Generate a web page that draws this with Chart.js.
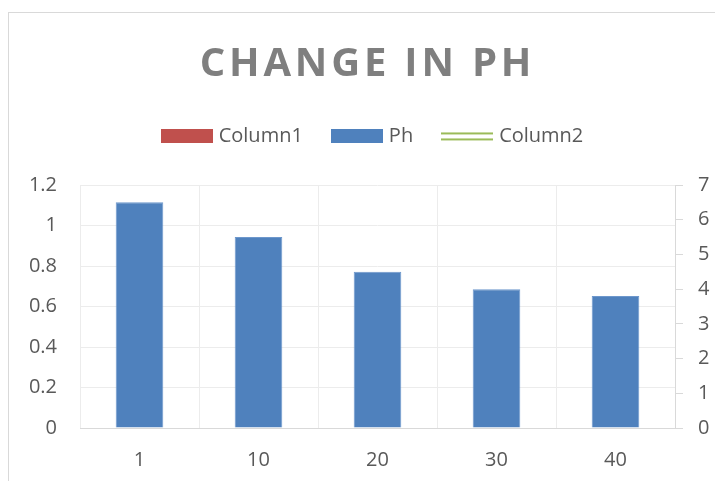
<!DOCTYPE html>
<html>
<head>
<meta charset="utf-8">
<title>Change in PH</title>
<script src="https://cdn.jsdelivr.net/npm/chart.js@4"></script>
<style>
  html, body { margin: 0; padding: 0; background: #fff; overflow: hidden; width: 715px; height: 481px; }
  #frame { position: absolute; left: 8px; top: 12px; width: 719px; height: 480px; border: 1px solid #d9d9d9; box-sizing: border-box; }
  #chart { position: absolute; left: 8px; top: 12px; }
</style>
</head>
<body>
<div id="frame"></div>
<canvas id="chart" width="719" height="480"></canvas>
<script>
  const categories = ['1', '10', '20', '30', '40'];
  const phValues = [6.5, 5.5, 4.5, 4.0, 3.8];
  const column1Values = [];
  const column2Values = [];
  const leftTicks = ['0', '0.2', '0.4', '0.6', '0.8', '1', '1.2'];
  const rightTicks = ['0', '1', '2', '3', '4', '5', '6', '7'];

  const RED = '#C0504D', BLUE = '#4F81BD', GREEN = '#9BBB59';
  const TEXT = '#595959';
  const FONT = "'Open Sans', 'Liberation Sans', sans-serif";

  // legend icons: plain boxes and a double line
  function boxIcon(color) {
    const c = document.createElement('canvas');
    c.width = 52; c.height = 14;
    const g = c.getContext('2d');
    g.fillStyle = color;
    g.fillRect(0, 0, 52, 14);
    return c;
  }
  function doubleLineIcon(color) {
    const c = document.createElement('canvas');
    c.width = 52; c.height = 14;
    const g = c.getContext('2d');
    g.fillStyle = color;
    g.fillRect(0, 3, 52, 2);
    g.fillRect(0, 9, 52, 2);
    return c;
  }
  const legendIcons = [boxIcon(RED), boxIcon(BLUE), doubleLineIcon(GREEN)];

  // Excel draws the title letter-spaced, and its legend sits a bit right of centre
  const excelLook = {
    id: 'excelLook',
    afterLayout(chart) {
      if (chart.legend) { chart.legend.left += 6.5; chart.legend.right += 6.5; }
    },
    beforeDraw(chart) {
      const tb = chart.titleBlock;
      if (!tb || tb._spaced) return;
      const draw = tb.draw.bind(tb);
      tb.draw = function(area) {
        chart.ctx.save();
        chart.ctx.letterSpacing = '3.8px';
        draw(area);
        chart.ctx.restore();
      };
      tb._spaced = true;
    }
  };

  new Chart(document.getElementById('chart'), {
    data: {
      labels: categories,
      datasets: [
        { type: 'bar', label: 'Column1', data: column1Values, backgroundColor: RED, yAxisID: 'y', grouped: false },
        { type: 'bar', label: 'Ph', data: phValues, backgroundColor: BLUE, borderColor: '#6d97cc', borderWidth: 1, yAxisID: 'y1', grouped: false, barPercentage: 0.4, categoryPercentage: 1 },
        { type: 'line', label: 'Column2', data: column2Values, borderColor: GREEN, yAxisID: 'y' }
      ]
    },
    options: {
      responsive: false,
      animation: false,
      layout: { padding: 0 },
      plugins: {
        title: {
          display: true,
          text: 'CHANGE IN PH',
          color: '#7f7f7f',
          font: { family: FONT, size: 40, weight: 'bold', lineHeight: 1.2 },
          padding: { top: 29, bottom: 5.4 }
        },
        subtitle: {
          // empty spacer between legend and plot
          display: true,
          text: '',
          weight: 500,
          font: { size: 20, lineHeight: 1 },
          padding: { top: 8.6, bottom: 0 }
        },
        legend: {
          labels: {
            color: TEXT,
            font: { family: FONT, size: 20 },
            usePointStyle: true,
            pointStyleWidth: 44,
            boxHeight: 14,
            padding: 32,
            generateLabels(chart) {
              const items = Chart.defaults.plugins.legend.labels.generateLabels(chart);
              items.forEach(it => { it.pointStyle = legendIcons[it.datasetIndex]; });
              return items;
            }
          }
        },
        tooltip: { enabled: false }
      },
      scales: {
        x: {
          offset: true,
          grid: { offset: true, color: '#ececec', drawTicks: false },
          border: { color: '#d9d9d9' },
          ticks: { color: TEXT, font: { family: FONT, size: 20 }, padding: 20 }
        },
        y: {
          position: 'left',
          min: 0, max: 1.2,
          ticks: {
            stepSize: 0.2, color: TEXT, font: { family: FONT, size: 20 }, padding: 23,
            callback: (v, i) => leftTicks[i]
          },
          grid: { color: '#ececec', drawTicks: false },
          border: { display: false },
          afterFit(scale) { scale.width = 72; }
        },
        y1: {
          position: 'right',
          min: 0, max: 7,
          ticks: {
            stepSize: 1, color: TEXT, font: { family: FONT, size: 20 }, padding: 15,
            callback: (v, i) => rightTicks[i]
          },
          grid: { drawOnChartArea: false, drawTicks: true, tickLength: 8, color: '#d9d9d9' },
          border: { display: true, color: '#d9d9d9' },
          afterFit(scale) { scale.width = 52; }
        }
      }
    },
    plugins: [excelLook]
  });
</script>
</body>
</html>
